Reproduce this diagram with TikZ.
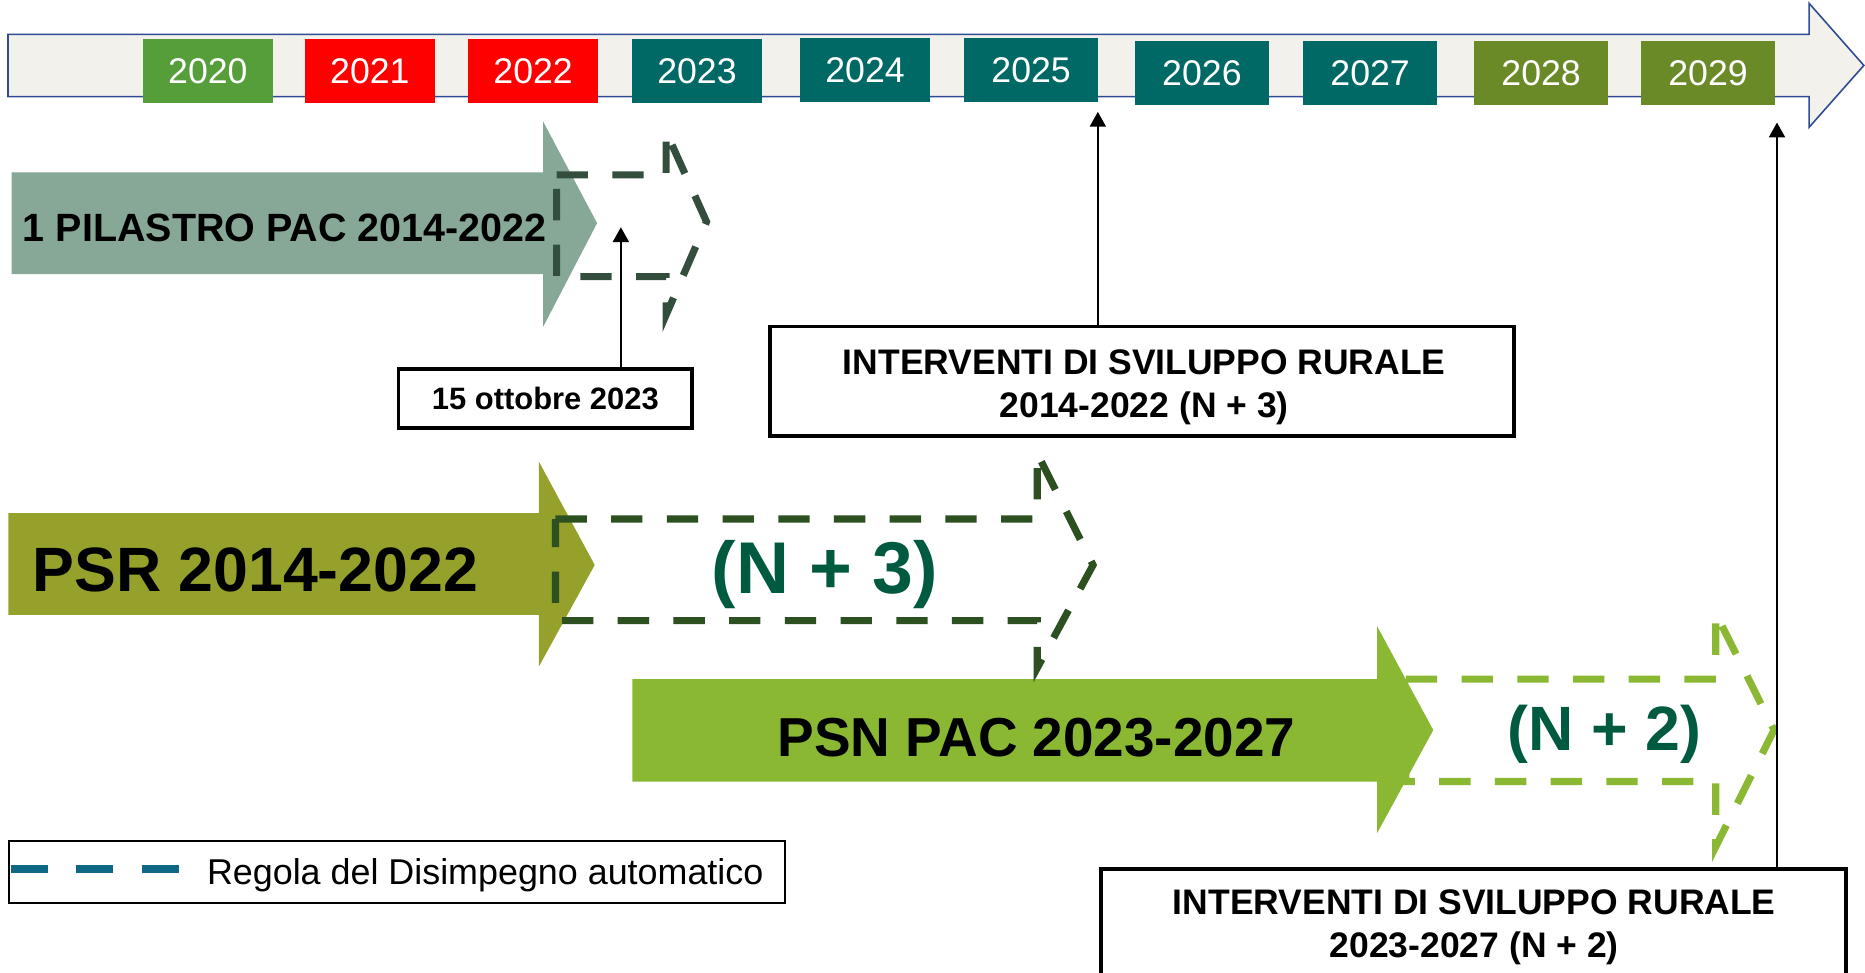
\documentclass[tikz,border=0pt]{standalone}
\usepackage{fontspec}
\setmainfont{Liberation Sans}
\usetikzlibrary{arrows.meta}
\definecolor{tlfill}{HTML}{F2F1EC}
\definecolor{tlblue}{HTML}{2F4B93}
\definecolor{cgreen}{HTML}{559E3A}
\definecolor{cred}{HTML}{FF0000}
\definecolor{cteal}{HTML}{006966}
\definecolor{colive}{HTML}{6A8A27}
\definecolor{pilfill}{HTML}{87A896}
\definecolor{pildash}{HTML}{344E3D}
\definecolor{psrfill}{HTML}{95A12B}
\definecolor{psrdash}{HTML}{2D5020}
\definecolor{psnfill}{HTML}{8AB833}
\definecolor{ntext}{HTML}{005A40}
\definecolor{legdash}{HTML}{0E6784}
\begin{document}
\begin{tikzpicture}[x=0.6pt,y=-0.6pt,
  yr/.style={rectangle, inner sep=0pt, text=white, minimum width={109.5*0.6pt}, minimum height={53.8*0.6pt}, font=\fontsize{18}{20}\selectfont},
  dasharrow/.style={line width=3.6pt, dash pattern=on 15.8pt off 12.3pt, line join=miter},
  rulebox/.style={draw=black, line width=2pt, fill=white, rectangle, inner sep=0pt},
  conn/.style={draw=black, line width=1.2pt, -{Triangle[length=7.5pt,width=8pt]}},
  lbl/.style={inner sep=0pt},
  boxtext/.style={inner sep=0pt, align=center, font=\bfseries\fontsize{17.9}{21.9}\selectfont}
]
\useasboundingbox (0,0) rectangle (1568,818);
% timeline
\draw[draw=tlblue, line width=0.8pt, fill=tlfill] (6.7,28.9) -- (1521,28.9) -- (1521,2.8) -- (1567,55) -- (1521,107) -- (1521,81.3) -- (6.7,81.3) -- cycle;
\node[yr, fill=cgreen] (y2020) at (174.75,59.7) {2020};
\node[yr, fill=cred] (y2021) at (311,59.7) {2021};
\node[yr, fill=cred] (y2022) at (448.2,59.7) {2022};
\node[yr, fill=cteal] (y2023) at (586,59.7) {2023};
\node[yr, fill=cteal] (y2024) at (727.3,58.9) {2024};
\node[yr, fill=cteal, minimum width={112.7*0.6pt}] (y2025) at (866.9,58.9) {2025};
\node[yr, fill=cteal, minimum width={112.7*0.6pt}] (y2026) at (1010.5,61.4) {2026};
\node[yr, fill=cteal, minimum width={112.7*0.6pt}] (y2027) at (1151.9,61.4) {2027};
\node[yr, fill=colive, minimum width={112.7*0.6pt}] (y2028) at (1295.7,61.4) {2028};
\node[yr, fill=colive, minimum width={112.7*0.6pt}] (y2029) at (1436,61.4) {2029};
% solid arrows
\fill[pilfill] (9.7,145) -- (456.7,145) -- (456.7,102.3) -- (502,187.6) -- (456.7,274.7) -- (456.7,230.4) -- (9.7,230.4) -- cycle;
\fill[psrfill] (7,431.5) -- (453,431.5) -- (453,388) -- (500,475) -- (453,560.5) -- (453,517) -- (7,517) -- cycle;
\fill[psnfill] (531.6,571) -- (1157.7,571) -- (1157.7,526.3) -- (1205,613.8) -- (1157.7,700.6) -- (1157.7,657.2) -- (531.6,657.2) -- cycle;
% dashed arrows
\draw[dasharrow, draw=pildash] (468,147) -- (560,147) -- (560,110.7) -- (594,186.4) -- (560,264.8) -- (560,232.6) -- (468,232.6) -- cycle;
\draw[dasharrow, draw=psrdash] (467,436.4) -- (872,436.4) -- (872,381) -- (919,475) -- (872,561.7) -- (872,521.8) -- (467,521.8) -- cycle;
\draw[dasharrow, draw=psnfill] (1182,571) -- (1442.5,571) -- (1442.5,515.6) -- (1491.5,613.8) -- (1442.5,711.8) -- (1442.5,657) -- (1182,657) -- cycle;
% labels
\node[lbl, anchor=base west, font=\bfseries\fontsize{19.9}{22}\selectfont] (pil) at (19,203) {1 PILASTRO PAC 2014-2022};
\node[lbl, anchor=base west, font=\bfseries\fontsize{31.6}{34}\selectfont] (psr) at (27,497.5) {PSR 2014-2022};
\node[lbl, anchor=base, text=ntext, font=\bfseries\fontsize{37}{40}\selectfont] (n3) at (693.5,498.7) {(N + 3)};
\node[lbl, anchor=base, font=\bfseries\fontsize{27.7}{30}\selectfont] (psn) at (871.5,636) {PSN PAC 2023-2027};
\node[lbl, anchor=base, text=ntext, font=\bfseries\fontsize{31.6}{34}\selectfont] (n2) at (1349,630.6) {(N + 2)};
% boxes
\node[rulebox, line width=1.8pt, minimum width={247*0.6pt}, minimum height={50*0.6pt}, font=\bfseries\fontsize{15.6}{18}\selectfont] (ott) at (458.5,335) {15 ottobre 2023};
\node[rulebox, minimum width={626*0.6pt}, minimum height={92*0.6pt}] (ir1) at (960,320.5) {};
\node[boxtext] (ir1t) at (962,325.4) {INTERVENTI DI SVILUPPO RURALE\\2014-2022 (N + 3)};
\node[rulebox, anchor=north, minimum width={626.4*0.6pt}, minimum height={95*0.6pt}] (ir2) at (1238.8,728.7) {};
\node[boxtext] (ir2t) at (1239.5,779.4) {INTERVENTI DI SVILUPPO RURALE\\2023-2027 (N + 2)};
% connectors
\coordinate (ottend) at (522,191);
\draw[conn] (ott.north -| ottend) -- (ottend);
\coordinate (ir1end) at (923,94);
\draw[conn] (ir1.north -| ir1end) -- (ir1end);
\coordinate (ir2end) at (1494,103);
\draw[conn] (ir2.north -| ir2end) -- (ir2end);
% legend
\node[draw=black, line width=1pt, minimum width={652.4*0.6pt}, minimum height={52.7*0.6pt}, inner sep=0pt] (leg) at (333.5,733.15) {};
\draw[draw=legdash, line width=4pt, dash pattern=on 18.7pt off 14.2pt] (9.4,730.6) -- (151,730.6);
\node[lbl, anchor=base west, font=\fontsize{18.1}{20}\selectfont] (legt) at (173.7,744) {Regola del Disimpegno automatico};
\end{tikzpicture}
\end{document}
